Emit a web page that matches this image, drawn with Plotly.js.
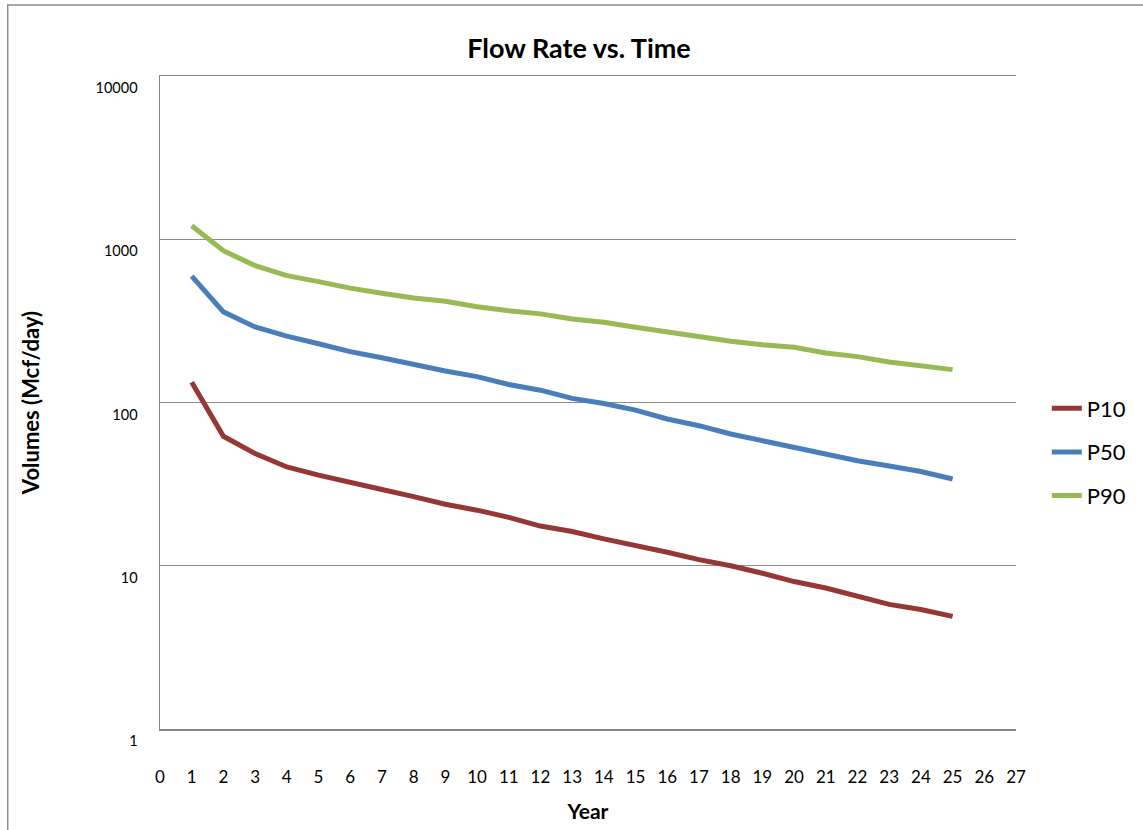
<!DOCTYPE html>
<html>
<head>
<meta charset="utf-8">
<script src="https://cdn.plot.ly/plotly-3.0.1.min.js"></script>
<style>
  html, body { margin: 0; padding: 0; background: #ffffff; }
  #chart { width: 1143px; height: 830px; }
</style>
</head>
<body>
<div id="chart"></div>
<script>
// Data
const years = [1, 2, 3, 4, 5, 6, 7, 8, 9, 10, 11, 12, 13, 14, 15, 16, 17, 18, 19, 20, 21, 22, 23, 24, 25];
const p10 = [133, 62.1, 48.7, 40.3, 35.9, 32.2, 29.3, 26.5, 23.8, 21.9, 19.8, 17.5, 16.2, 14.6, 13.4, 12.1, 10.9, 10.0, 9.0, 8.0, 7.3, 6.5, 5.8, 5.4, 4.9];
const p50 = [594, 359, 290, 255, 229, 205, 188, 170, 156, 144, 129, 119, 106, 98.6, 89.8, 79.2, 72.1, 64.1, 58.3, 53.6, 48.8, 44.0, 40.8, 37.8, 34.0];
const p90 = [1210, 851, 689, 599, 550, 502, 467, 437, 417, 386, 365, 349, 325, 310, 289, 269, 254, 237, 226, 218, 201, 191, 177, 168, 159];
const seriesNames = ["P10", "P50", "P90"];
const xTickVals = [0, 1, 2, 3, 4, 5, 6, 7, 8, 9, 10, 11, 12, 13, 14, 15, 16, 17, 18, 19, 20, 21, 22, 23, 24, 25, 26, 27];
const yTickVals = [1, 10, 100, 1000, 10000];
const yTickText = ["1", "10", "100", "1000", "10000"];

const colors = ["#953735", "#4A7EBB", "#98B954"];
const seriesData = [p10, p50, p90];
const FONT = "Lato, 'Open Sans', sans-serif";

const traces = seriesData.map((vals, i) => ({
  type: "scatter",
  mode: "lines",
  x: years,
  y: vals,
  name: seriesNames[i],
  legendgroup: seriesNames[i],
  line: { color: colors[i], width: 5 }
}));

const layout = {
  width: 1143,
  height: 830,
  margin: { l: 160, r: 123, t: 76, b: 101 },
  paper_bgcolor: "#ffffff",
  plot_bgcolor: "#ffffff",
  font: { family: FONT, color: "#000000" },
  title: {
    text: "<b>Flow Rate vs. Time</b>",
    font: { family: FONT, size: 27, color: "#000000" },
    x: 579 / 1143, xref: "container", xanchor: "center",
    y: 1 - 49 / 830, yref: "container", yanchor: "middle"
  },
  xaxis: {
    type: "linear",
    range: [0, 27],
    tickvals: xTickVals,
    ticks: "",
    showgrid: false,
    zeroline: false,
    showline: true,
    mirror: true,
    linecolor: "#868686",
    linewidth: 1.5,
    tickfont: { family: FONT, size: 17, color: "#000000" },
    ticklabelstandoff: 32,
    title: { text: "<b>Year</b>", font: { family: FONT, size: 21, color: "#000000" }, standoff: 18 }
  },
  yaxis: {
    type: "log",
    range: [0, 4],
    tickvals: yTickVals,
    ticktext: yTickText,
    ticks: "",
    showgrid: true,
    gridcolor: "#8c8c8c",
    gridwidth: 1,
    zeroline: false,
    showline: true,
    linecolor: "#868686",
    linewidth: 1.5,
    tickfont: { family: FONT, size: 14.5, color: "#000000" },
    ticklabelstandoff: 18,
    ticklabelshift: 12,
    title: { text: "<b>Volumes (Mcf/day)</b>", font: { family: FONT, size: 22, color: "#000000" }, standoff: 50 }
  },
  legend: {
    x: 1.036, xanchor: "left",
    y: (729 - 452) / 653, yanchor: "middle",
    font: { family: FONT, size: 22, color: "#000000" },
    tracegroupgap: 12,
    traceorder: "grouped",
    bgcolor: "rgba(0,0,0,0)"
  },
  showlegend: true,
  shapes: [{
    type: "rect",
    xref: "paper", yref: "paper",
    x0: (7 - 160) / 860, x1: (1150 - 160) / 860,
    y0: (729 - 840) / 653, y1: (729 - 5) / 653,
    line: { color: "#8c8c8c", width: 1.5 },
    fillcolor: "rgba(0,0,0,0)",
    layer: "below"
  }]
};

Plotly.newPlot("chart", traces, layout, { displayModeBar: false, staticPlot: true });
</script>
</body>
</html>
